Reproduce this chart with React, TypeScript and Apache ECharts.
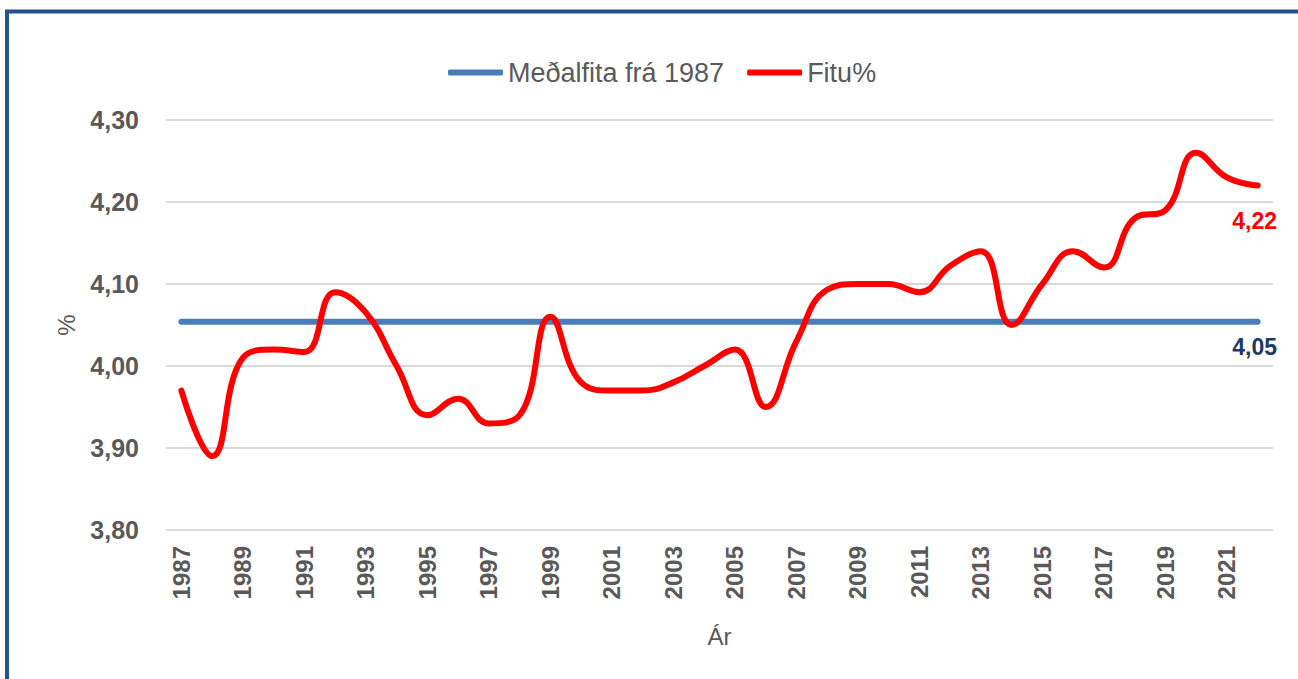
import React, { useEffect, useRef } from "react";
import * as echarts from "echarts";

const years: string[] = [
  "1987", "1988", "1989", "1990", "1991", "1992", "1993", "1994", "1995", "1996",
  "1997", "1998", "1999", "2000", "2001", "2002", "2003", "2004", "2005", "2006",
  "2007", "2008", "2009", "2010", "2011", "2012", "2013", "2014", "2015", "2016",
  "2017", "2018", "2019", "2020", "2021", "2022",
];

const fatPct: number[] = [
  3.97, 3.89, 4.01, 4.02, 4.017, 4.09, 4.065, 4.0, 3.94, 3.96,
  3.93, 3.94, 4.06, 3.98, 3.97, 3.97, 3.98, 4.0, 4.02, 3.95,
  4.03, 4.093, 4.1, 4.1, 4.09, 4.122, 4.14, 4.05, 4.1, 4.14,
  4.12, 4.18, 4.19, 4.26, 4.23, 4.22,
];

const meanSince1987 = 4.054;

const yMin = 3.8;
const yMax = 4.3;
const yInterval = 0.1;

const seriesNames = ["Meðalfita frá 1987", "Fitu%"];

const FONT = "'Liberation Sans', Arial, sans-serif";
const GRAY = "#595959";

export default function App() {
  const ref = useRef<HTMLDivElement>(null);

  useEffect(() => {
    if (!ref.current) return;
    const chart = echarts.init(ref.current, null, { renderer: "svg" });
    const last = years.length - 1;
    const fmt = (v: number) => v.toFixed(2).replace(".", ",");

    const meanData = years.map((_, i) =>
      i === last
        ? {
            value: meanSince1987,
            label: {
              show: true,
              position: "bottom",
              distance: 14,
              offset: [-3, 0],
              formatter: () => fmt(meanSince1987),
              color: "#203864",
              fontWeight: "bold",
              fontSize: 23,
              fontFamily: FONT,
            },
          }
        : meanSince1987
    );

    const fatData = fatPct.map((v, i) =>
      i === last
        ? {
            value: v,
            label: {
              show: true,
              position: "bottom",
              distance: 24,
              offset: [-3, 0],
              formatter: () => fmt(v),
              color: "#FF0000",
              fontWeight: "bold",
              fontSize: 23,
              fontFamily: FONT,
            },
          }
        : v
    );

    chart.setOption({
      animation: false,
      backgroundColor: "#ffffff",
      textStyle: { fontFamily: FONT },
      graphic: [
        {
          type: "rect",
          shape: { x: 7, y: 11.5, width: 1400, height: 800 },
          style: { fill: "none", stroke: "#24508C", lineWidth: 4 },
          silent: true,
        },
      ],
      legend: {
        left: 443,
        top: 54,
        itemWidth: 55,
        itemHeight: 6,
        itemGap: 23,
        icon: "roundRect",
        textStyle: { color: GRAY, fontSize: 27, fontFamily: FONT },
        data: seriesNames,
      },
      grid: { left: 166, right: 25, top: 120, bottom: 149, containLabel: false },
      xAxis: {
        type: "category",
        data: years,
        boundaryGap: true,
        axisLine: { show: false },
        axisTick: { show: false },
        axisLabel: {
          interval: 1,
          rotate: 90,
          margin: 16,
          color: GRAY,
          fontWeight: "bold",
          fontSize: 24,
          fontFamily: FONT,
        },
        name: "Ár",
        nameLocation: "middle",
        nameGap: 94,
        nameTextStyle: { color: GRAY, fontSize: 24, fontFamily: FONT },
      },
      yAxis: {
        type: "value",
        min: yMin,
        max: yMax,
        interval: yInterval,
        axisLine: { show: false },
        axisTick: { show: false },
        splitLine: { lineStyle: { color: "#D9D9D9", width: 2 } },
        axisLabel: {
          margin: 27,
          color: GRAY,
          fontWeight: "bold",
          fontSize: 25,
          fontFamily: FONT,
          formatter: (v: number) => fmt(v),
        },
        name: "%",
        nameLocation: "middle",
        nameGap: 88,
        nameTextStyle: { color: GRAY, fontSize: 24, fontFamily: FONT },
      },
      series: [
        {
          name: seriesNames[0],
          type: "line",
          data: meanData,
          symbol: "circle",
          symbolSize: 0.1,
          showSymbol: true,
          showAllSymbol: true,
          itemStyle: { color: "#4A7EBB" },
          lineStyle: { color: "#4A7EBB", width: 6, cap: "round" },
          z: 2,
        },
        {
          name: seriesNames[1],
          type: "line",
          data: fatData,
          smooth: 0.45,
          symbol: "circle",
          symbolSize: 0.1,
          showSymbol: true,
          showAllSymbol: true,
          itemStyle: { color: "#FF0000" },
          lineStyle: { color: "#FF0000", width: 6, cap: "round", join: "round" },
          labelLine: { show: false },
          z: 3,
        },
      ],
    });

    return () => chart.dispose();
  }, []);

  return (
    <div
      ref={ref}
      style={{ position: "fixed", left: 0, top: 0, width: 1298, height: 679, background: "#fff" }}
    />
  );
}
